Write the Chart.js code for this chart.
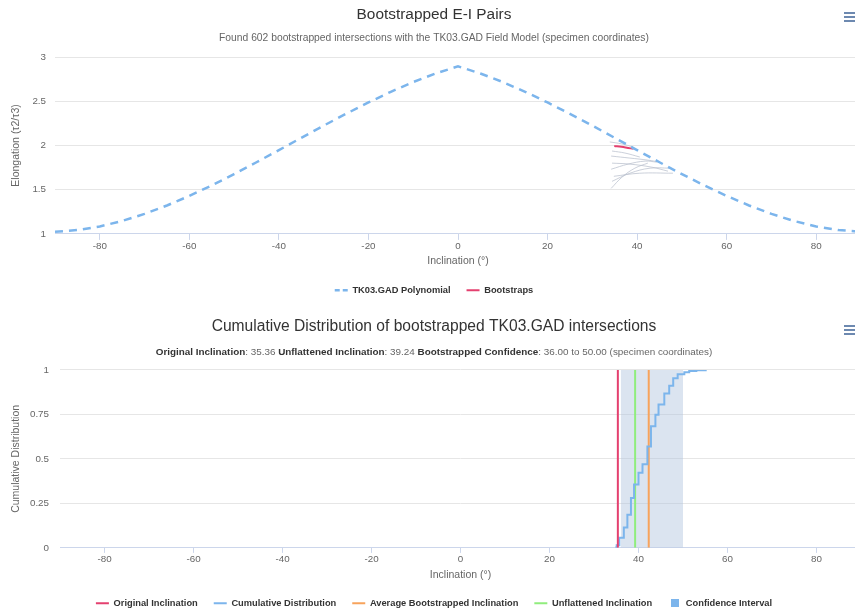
<!DOCTYPE html>
<html>
<head>
<meta charset="utf-8">
<title>Bootstrapped E-I Pairs</title>
<script src="https://cdn.jsdelivr.net/npm/chart.js@4.4.1/dist/chart.umd.min.js"></script>
<style>
  html, body { margin: 0; padding: 0; background: #fff; overflow: hidden; }
  #page { position: relative; width: 855px; height: 613px; overflow: hidden; }
  .box { position: absolute; left: 0; width: 872px; }
  #boxEI { top: 0; height: 305px; }
  #boxCDF { top: 312px; height: 306px; }
  .menu { position: absolute; left: 844px; width: 11px; height: 9px; }
  .menu span { position: absolute; left: 0; width: 11px; height: 2px; background: #6d89b0; }
</style>
</head>
<body>
<div id="page">
  <div class="box" id="boxEI"><canvas id="chartEI"></canvas></div>
  <div class="box" id="boxCDF"><canvas id="chartCDF"></canvas></div>
  <div class="menu" style="top:12px"><span style="top:0"></span><span style="top:4px"></span><span style="top:8px"></span></div>
  <div class="menu" style="top:325px"><span style="top:0"></span><span style="top:4px"></span><span style="top:8px"></span></div>
</div>
<script>
// ---------------------------------------
// DATA: E-I pairs (atas)
// ---------------------------------------

// TK03.GAD polinomial, dibaca tiap 5 derajat
const polyInc = [-90, -85, -80, -75, -70, -65, -60, -55, -50, -45, -40, -35, -30, -25, -20, -15, -10, -5,
  0, 5, 10, 15, 20, 25, 30, 35, 40, 45, 50, 55, 60, 65, 70, 75, 80, 85, 90];
const polyElong = [1.024, 1.043, 1.084, 1.146, 1.226, 1.321, 1.429, 1.548, 1.676, 1.810, 1.947, 2.086, 2.224, 2.358, 2.486, 2.607, 2.717, 2.814,
  2.895, 2.814, 2.717, 2.607, 2.486, 2.358, 2.224, 2.086, 1.947, 1.810, 1.676, 1.548, 1.429, 1.321, 1.226, 1.146, 1.084, 1.043, 1.024];

// garis bootstrap abu-abu (tidak tampil di legend)
const grayInc = [
  [33.9, 36.6, 39.1],
  [34.2, 38.4, 42.4, 45.1],
  [34.2, 38.0, 41.8, 44.4],
  [34.2, 36.6, 39.5, 42.4],
  [34.4, 38.4, 42.9, 47.3],
  [34.8, 40.6, 48.0],
  [34.4, 37.3, 40.6],
  [34.4, 38.4, 43.3, 46.9],
];
const grayElong = [
  [2.04, 2.017, 1.983],
  [1.88, 1.857, 1.834, 1.811],
  [1.731, 1.789, 1.823, 1.811],
  [1.514, 1.64, 1.743, 1.80],
  [1.594, 1.686, 1.743, 1.743],
  [1.651, 1.686, 1.686],
  [1.937, 1.914, 1.869],
  [1.80, 1.789, 1.754, 1.709],
];

// bootstrap data asli (merah)
const bootInc = [34.9, 36.5, 38.0, 39.2];
const bootElong = [1.994, 1.985, 1.972, 1.962];

const xTicks = [-80, -60, -40, -20, 0, 20, 40, 60, 80];

// ---------------------------------------
// DATA: distribusi kumulatif (bawah)
// ---------------------------------------

const cdfInc = [34.8, 35.1, 35.7, 36.7, 37.5, 38.3, 39.0, 40.0, 40.9, 42.0, 42.8, 43.8, 44.5, 45.8, 46.9, 47.8, 48.8, 50.3, 51.4, 53.0, 55.1];
const cdfVal = [0.003, 0.015, 0.057, 0.115, 0.186, 0.28, 0.356, 0.422, 0.47, 0.57, 0.684, 0.748, 0.805, 0.868, 0.911, 0.953, 0.976, 0.987, 0.994, 0.998, 1.0];

const originalInc = 35.36;
const unflattenedInc = 39.24;
const averageBootInc = 42.3;
const confidenceLow = 36.0;
const confidenceHigh = 50.0;

// ---------------------------------------
// STYLE
// ---------------------------------------

const FONT = "'Liberation Sans', Arial, sans-serif";
const BLUE = "#7cb5ec";
const RED = "#e4406f";
const ORANGE = "#f7a35c";
const GREEN = "#90ed7d";
const GRAY = "rgba(185, 192, 206, 0.75)";
const LEGEND_SIZE = 9.3;

Chart.defaults.font.family = FONT;
Chart.defaults.color = "#666";

function pairs(xs, ys) {
  return xs.map((x, i) => ({ x, y: ys[i] }));
}

// subtitle dengan bagian tebal (Chart.js subtitle tidak bisa campur bold)
const richSubtitle = {
  id: "richSubtitle",
  afterDraw(chart, args, opts) {
    if (!opts.parts) return;
    const ctx = chart.ctx;
    ctx.save();
    ctx.textBaseline = "middle";
    const fonts = opts.parts.map((p) => (p.bold ? "bold " : "") + opts.size + "px " + FONT);
    let total = 0;
    const widths = opts.parts.map((p, i) => {
      ctx.font = fonts[i];
      const w = ctx.measureText(p.text).width;
      total += w;
      return w;
    });
    let x = opts.centerX - total / 2;
    opts.parts.forEach((p, i) => {
      ctx.font = fonts[i];
      ctx.fillStyle = p.bold ? "#333" : "#666";
      ctx.fillText(p.text, x, opts.y);
      x += widths[i];
    });
    ctx.restore();
  },
};

// sumbu x: tinggi dipaksa supaya area plot pas
function xScale(title, height, tickLen, titlePadBottom) {
  return {
    type: "linear",
    min: -90,
    max: 90,
    afterBuildTicks: (scale) => {
      scale.ticks = xTicks.map((v) => ({ value: v }));
    },
    afterFit: (scale) => { scale.height = height; },
    grid: {
      drawOnChartArea: false,
      drawTicks: true,
      tickLength: tickLen,
      color: "#ccd6eb",
    },
    border: { display: true, color: "#ccd6eb" },
    ticks: { font: { size: 9.8 }, padding: 1, maxRotation: 0, color: "#666" },
    title: { display: true, text: title, font: { size: 10.5 }, color: "#666", padding: { top: 0, bottom: titlePadBottom } },
  };
}

function yScale(min, max, step, width, padding, title) {
  return {
    min,
    max,
    afterFit: (scale) => { scale.width = width; },
    ticks: {
      stepSize: step,
      font: { size: 9.8 },
      padding,
      callback: (v) => String(+v.toFixed(2)),
    },
    grid: { color: "#e6e6e6", drawTicks: false },
    border: { display: false },
    title: { display: true, text: title, font: { size: 10.5 }, padding: { top: 10, bottom: 0 } },
  };
}

// ruang kosong di kanan supaya judul & legend di tengah (seperti aslinya)
const spacerRight = {
  position: "right",
  display: true,
  afterFit: (scale) => { scale.width = 7; },
  grid: { display: false },
  ticks: { display: false },
  border: { display: false },
};

// kotak kecil untuk legend "Confidence Interval"
const squareIcon = document.createElement("canvas");
squareIcon.width = 8;
squareIcon.height = 8;
squareIcon.getContext("2d").fillStyle = BLUE;
squareIcon.getContext("2d").fillRect(0, 0, 8, 8);

function legendOpts() {
  return {
    position: "bottom",
    labels: {
      usePointStyle: true,
      pointStyleWidth: 13,
      boxHeight: 8,
      padding: 16,
      color: "#333",
      font: { size: LEGEND_SIZE, weight: "bold" },
      filter: (item) => item.text !== "",
      generateLabels: (chart) => {
        const items = Chart.defaults.plugins.legend.labels.generateLabels(chart);
        items.forEach((item) => {
          if (item.text === "Confidence Interval") {
            item.pointStyle = squareIcon;
          }
          if (item.text === "TK03.GAD Polynomial") {
            item.lineDash = [5, 3];
          }
        });
        return items;
      },
    },
  };
}

// ---------------------------------------
// GRAFIK: E-I PAIRS
// ---------------------------------------

const dataEI = [
  {
    label: "TK03.GAD Polynomial",
    data: pairs(polyInc, polyElong),
    borderColor: BLUE,
    backgroundColor: BLUE,
    borderWidth: 2.5,
    borderDash: [8, 6],
    pointRadius: 0,
    pointStyle: "line",
    tension: 0,
  },
  {
    label: "Bootstraps",
    data: pairs(bootInc, bootElong),
    borderColor: RED,
    backgroundColor: RED,
    borderWidth: 2,
    pointRadius: 0,
    pointStyle: "line",
    tension: 0.4,
  },
];

grayInc.forEach((inc, i) => {
  dataEI.push({
    label: "",
    data: pairs(inc, grayElong[i]),
    borderColor: GRAY,
    borderWidth: 1,
    pointRadius: 0,
    tension: 0.4,
  });
});

// legend: tinggi = itemHeight + padding + 10
const legendH = LEGEND_SIZE * 1.2 + 16 + 10;

new Chart(document.getElementById("chartEI"), {
  type: "line",
  data: { datasets: dataEI },
  options: {
    responsive: true,
    maintainAspectRatio: false,
    animation: false,
    layout: { padding: { left: 0, right: 4, top: 0, bottom: 0 } },
    plugins: {
      title: {
        display: true,
        text: "Bootstrapped E-I Pairs",
        color: "#333",
        font: { size: 15.4, weight: "normal" },
        padding: { top: 5.8, bottom: 2 },
      },
      subtitle: {
        display: true,
        text: "Found 602 bootstrapped intersections with the TK03.GAD Field Model (specimen coordinates)",
        color: "#666",
        font: { size: 10.3 },
        padding: { top: 5.6, bottom: 12.8 },
      },
      legend: legendOpts(),
      tooltip: { enabled: false },
    },
    scales: {
      x: xScale("Inclination (°)", 305 - legendH - 232, 6, 305 - legendH - 266),
      y: yScale(1, 3, 0.5, 55, 9, "Elongation (τ2/τ3)"),
      spacer: spacerRight,
    },
  },
});

// ---------------------------------------
// GRAFIK: CUMULATIVE DISTRIBUTION
// ---------------------------------------

function vLine(label, x, color) {
  return {
    label,
    data: [{ x, y: 0 }, { x, y: 1 }],
    borderColor: color,
    backgroundColor: color,
    borderWidth: 2,
    pointRadius: 0,
    pointStyle: "line",
  };
}

const dataCDF = [
  vLine("Original Inclination", originalInc, RED),
  {
    label: "Cumulative Distribution",
    data: pairs(cdfInc, cdfVal),
    borderColor: BLUE,
    backgroundColor: BLUE,
    borderWidth: 2,
    stepped: "before",
    pointRadius: 0,
    pointStyle: "line",
  },
  vLine("Average Bootstrapped Inclination", averageBootInc, ORANGE),
  vLine("Unflattened Inclination", unflattenedInc, GREEN),
  {
    label: "Confidence Interval",
    data: [{ x: confidenceLow, y: 1 }, { x: confidenceHigh, y: 1 }],
    borderColor: "rgba(0,0,0,0)",
    backgroundColor: "rgba(176, 196, 222, 0.45)",
    borderWidth: 0,
    fill: "origin",
    pointRadius: 0,
    pointStyle: "rect",
  },
];

new Chart(document.getElementById("chartCDF"), {
  type: "line",
  data: { datasets: dataCDF },
  plugins: [richSubtitle],
  options: {
    responsive: true,
    maintainAspectRatio: false,
    animation: false,
    layout: { padding: { left: 0, right: 4, top: 0, bottom: 0 } },
    plugins: {
      title: {
        display: true,
        text: "Cumulative Distribution of bootstrapped TK03.GAD intersections",
        color: "#333",
        font: { size: 15.6, weight: "normal" },
        padding: { top: 5.6, bottom: 33.6 },
      },
      richSubtitle: {
        y: 40,
        centerX: 434,
        size: 9.9,
        parts: [
          { text: "Original Inclination", bold: true },
          { text: ": 35.36 " },
          { text: "Unflattened Inclination", bold: true },
          { text: ": 39.24 " },
          { text: "Bootstrapped Confidence", bold: true },
          { text: ": 36.00 to 50.00 (specimen coordinates)" },
        ],
      },
      legend: legendOpts(),
      tooltip: { enabled: false },
    },
    scales: {
      x: xScale("Inclination (°)", 306 - legendH - 234, 5, 306 - legendH - 268),
      y: yScale(0, 1, 0.25, 60, 11, "Cumulative Distribution"),
      spacer: spacerRight,
    },
  },
});
</script>
</body>
</html>
